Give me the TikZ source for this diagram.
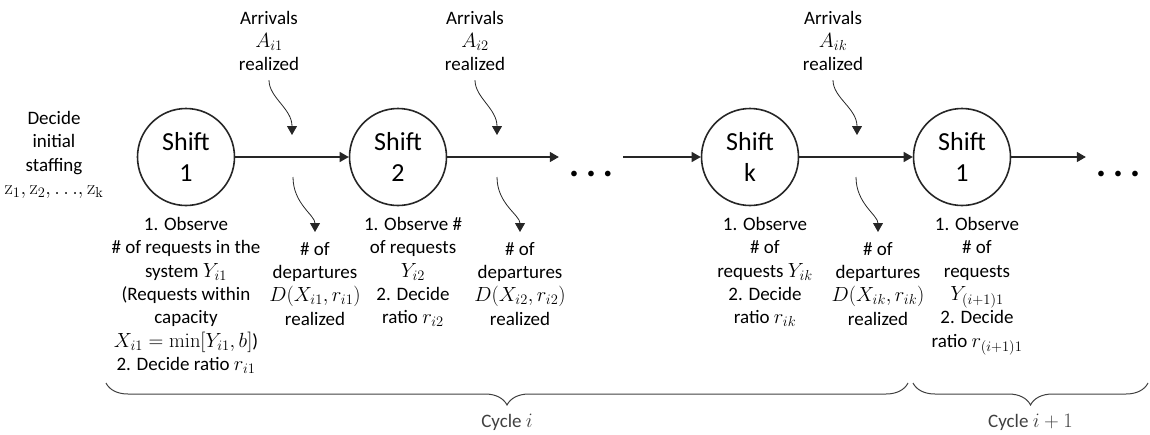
\RequirePackage{fix-cm}
\documentclass[tikz,border=0pt]{standalone}
\usepackage[no-math]{fontspec}
\setmainfont{Carlito}
\DeclareMathSizes{19}{20.5}{14.5}{11}
\usetikzlibrary{positioning,arrows.meta,decorations.pathreplacing}
\definecolor{coldark}{RGB}{38,38,38}
\definecolor{colbrace}{RGB}{64,64,64}
\tikzset{%
   shiftnode/.style = { draw=coldark, circle, line width=1.6pt, minimum size=97pt, inner sep=0pt, align=center, font=\fontsize{26}{31}\selectfont },
        note/.style = { align=center, inner sep=0pt, font=\fontsize{19}{23.3}\selectfont },
        flow/.style = { coldark, line width=1.4pt, -{Triangle[length=9pt,width=10pt]} },
        wavy/.style = { coldark, line width=0.8pt, -{Triangle[length=9pt,width=10pt]}, out=-90, in=90 },
      mbrace/.style = { colbrace, line width=1pt, decorate, decoration={brace, amplitude=22pt, mirror} },
      dotrow/.style = { inner ysep=0pt, inner xsep=11pt, font=\fontsize{16}{16}\selectfont },
  cyclelabel/.style = { note, midway, below=31pt }
}

\begin{document}
\begin{tikzpicture}[x=1pt,y=-1pt]
  \useasboundingbox (0,0) rectangle (1150,434);

  \node[note] (init) at (54,155) {Decide\\initial\\staffing\\$\mathrm{z}_1,\mathrm{z}_2,{\ldots},\mathrm{z}_\mathrm{k}$};

  \node[shiftnode] (s1) at (186,157) {Shift\\1};
  \node[shiftnode] (s2) at (398,157) {Shift\\2};
  \node[dotrow] (dots1) at (591,175) {\textbullet\hspace{9pt}\textbullet\hspace{9pt}\textbullet};
  \node[shiftnode] (sk) at (750,157) {Shift\\k};
  \node[shiftnode] (sn) at (962,157) {Shift\\1};
  \node[dotrow] (dots2) at (1118,175) {\textbullet\hspace{9pt}\textbullet\hspace{9pt}\textbullet};

  \draw[flow] (s1) -- (s2);
  \draw[flow] (s2) -- (s2 -| dots1.west);
  \draw[flow] (sk -| dots1.east) -- (sk);
  \draw[flow] (sk) -- (sn);
  \draw[flow] (sn) -- (sn -| dots2.west);

  \node[note, below=11pt of s1] (obs1) {1. Observe\\\# of requests in the\\system $Y_{i1}$\\(Requests within\\capacity\\$X_{i1}=\min[Y_{i1},b]$)\\2. Decide ratio $r_{i1}$};
  \node[note, below=11pt of s2, xshift=15pt] (obs2) {1. Observe \#\\of requests\\$Y_{i2}$\\2. Decide\\ratio $r_{i2}$};
  \node[note, below=11pt of sk, xshift=15pt] (obsk) {1. Observe\\\# of\\requests $Y_{ik}$\\2. Decide\\ratio $r_{ik}$};
  \node[note, below=11pt of sn, xshift=15pt] (obsn) {1. Observe\\\# of\\requests\\$Y_{(i+1)1}$\\2. Decide\\ratio $r_{(i+1)1}$};

  \node[note] (a1) at (269,41) {Arrivals\\$A_{i1}$\\realized};
  \node[note] (a2) at (475,41) {Arrivals\\$A_{i2}$\\realized};
  \node[note] (ak) at (833,41) {Arrivals\\$A_{ik}$\\realized};
  \coordinate (a1end) at (292,135);
  \coordinate (a2end) at (497,135);
  \coordinate (akend) at (857,135);
  \draw[wavy, shorten <=9pt] (a1.south) to (a1end);
  \draw[wavy, shorten <=9pt] (a2.south) to (a2end);
  \draw[wavy, shorten <=9pt] (ak.south) to (akend);

  \node[note, anchor=north] (d1) at (315,242) {\# of\\departures\\$D(X_{i1},r_{i1})$\\realized};
  \node[note, anchor=north] (d2) at (520,242) {\# of\\departures\\$D(X_{i2},r_{i2})$\\realized};
  \node[note, anchor=north] (dk) at (878,242) {\# of\\departures\\$D(X_{ik},r_{ik})$\\realized};
  \coordinate (d1top) at (293,177);
  \coordinate (d2top) at (497,177);
  \coordinate (dktop) at (856,177);
  \draw[wavy, shorten >=10pt] (d1top) to (d1.north);
  \draw[wavy, shorten >=10pt] (d2top) to (d2.north);
  \draw[wavy, shorten >=10pt] (dktop) to (dk.north);

  \coordinate (c1l) at (106,383);
  \coordinate (c1r) at (908,383);
  \coordinate (c2l) at (913,383);
  \coordinate (c2r) at (1148,383);
  \draw[mbrace] (c1l) -- (c1r) node[cyclelabel] (cyc1) {Cycle $i$};
  \draw[mbrace] (c2l) -- (c2r) node[cyclelabel] (cyc2) {Cycle $i+1$};

\end{tikzpicture}
\end{document}
